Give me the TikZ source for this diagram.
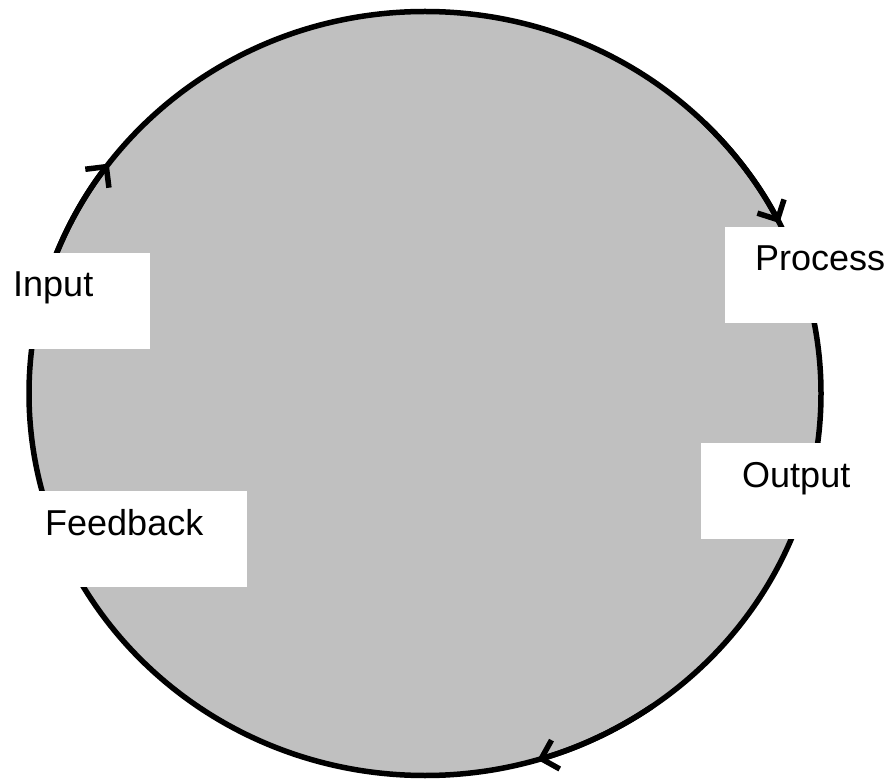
\documentclass[tikz,border=0pt]{standalone}
\usepackage{fontspec}
\setmainfont{Liberation Sans}
\usetikzlibrary{arrows.meta, positioning}
\definecolor{ringgray}{RGB}{192,192,192}

\begin{document}
\begin{tikzpicture}[x=1pt, y=1pt,
  ring/.style={line width=5.5pt},
  flow/.style={ring, -{Straight Barb[length=15pt, width=30pt]}},
  lbl/.style={fill=white, anchor=base west, inner ysep=0pt, text height=44pt, text depth=52pt, font=\fontsize{36}{43}\selectfont}]
\useasboundingbox (0,0) rectangle (894,780);
\clip (0,0) rectangle (894,780);
\coordinate (c) at (425,386.5);
\draw[ring, fill=ringgray] (c) ellipse [x radius=396, y radius=382];
% arrows along the cycle
\draw[flow] (c) ++(160:396 and 382) arc[start angle=160, end angle=143, x radius=396, y radius=382];
\draw[flow] (c) ++(45:396 and 382) arc[start angle=45, end angle=26.5, x radius=396, y radius=382];
\draw[flow] (c) ++(-55:396 and 382) arc[start angle=-55, end angle=-73.5, x radius=396, y radius=382];
% labels
\node[lbl, inner xsep=57pt] (input) at (-44,483) {Input};
\node[lbl, inner xsep=30pt] (process) at (725,509) {Process};
\node[lbl, inner xsep=41pt] (output) at (701,293) {Output};
\node[lbl, inner xsep=44pt] (feedback) at (1,245) {Feedback};
\end{tikzpicture}
\end{document}
